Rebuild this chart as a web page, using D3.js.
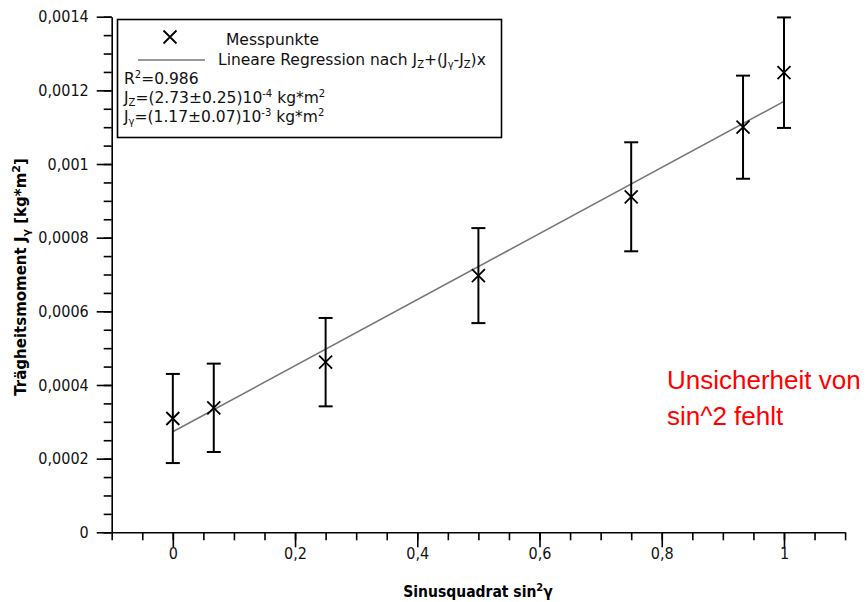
<!DOCTYPE html>
<html>
<head>
<meta charset="utf-8">
<script src="https://cdn.jsdelivr.net/npm/d3@7"></script>
<style>
  body { margin: 0; background: #fff; }
  svg { display: block; }
</style>
</head>
<body>
<div id="chart"></div>
<script>
// Messwerte: sin^2(gamma) und Traegheitsmoment mit Fehler
const sinSq = [0, 0.067, 0.25, 0.5, 0.75, 0.933, 1];
const inertia = [0.000309, 0.000338, 0.000462, 0.000697, 0.000911, 0.0011, 0.001248];
const inertiaErr = [0.000121, 0.00012, 0.00012, 0.000129, 0.000148, 0.00014, 0.00015];

// Fit-Parameter (aus der Legende)
const fitJz = 0.000273;
const fitJy = 0.00117;
const fitRange = [0, 1];

const xMajor = [0, 0.2, 0.4, 0.6, 0.8, 1];
const xMinor = d3.range(-2, 23).map(i => i * 0.05);
const yMajor = [0, 0.0002, 0.0004, 0.0006, 0.0008, 0.001, 0.0012, 0.0014];
const yMinor = d3.range(0, 29).map(i => i * 0.00005);

const W = 867, H = 602;
const font = "'DejaVu Sans Condensed', 'DejaVu Sans', sans-serif";
const fontWide = "'DejaVu Sans', sans-serif";

const svg = d3.select("#chart").append("svg")
    .attr("width", W)
    .attr("height", H);

const x = d3.scaleLinear().domain([-0.1, 1.1]).range([111.7, 845.1]);
const y = d3.scaleLinear().domain([0, 0.0014]).range([532.3, 16.7]);

const fmt = function(d) {
    if (d === 0) return "0";
    return String(+d.toFixed(4)).replace(".", ",");
};

// minor ticks
svg.append("g")
    .attr("transform", "translate(0," + y(0) + ")")
    .call(d3.axisBottom(x).tickValues(xMinor).tickSize(8).tickFormat(""))
    .call(g => g.select(".domain").remove());
svg.append("g")
    .attr("transform", "translate(" + x(-0.1) + ",0)")
    .call(d3.axisLeft(y).tickValues(yMinor).tickSize(8).tickFormat(""))
    .call(g => g.select(".domain").remove());

// major ticks + labels
const xAxis = svg.append("g")
    .attr("transform", "translate(0," + y(0) + ")")
    .call(d3.axisBottom(x).tickValues(xMajor).tickSize(15).tickSizeOuter(0).tickPadding(0).tickFormat(fmt));
const yAxis = svg.append("g")
    .attr("transform", "translate(" + x(-0.1) + ",0)")
    .call(d3.axisLeft(y).tickValues(yMajor).tickSize(15).tickSizeOuter(0).tickPadding(8).tickFormat(fmt));

[xAxis, yAxis].forEach(function(g) {
    g.select(".domain").attr("stroke", "#000").attr("stroke-width", 1.6);
    g.selectAll("text").attr("font-family", font).attr("font-size", 16).attr("fill", "#111");
});
svg.selectAll("g line").attr("stroke", "#000").attr("stroke-width", 1.6);

// axis titles
svg.append("text")
    .attr("x", 478)
    .attr("y", 597)
    .attr("text-anchor", "middle")
    .attr("font-family", font)
    .attr("font-size", 15.5)
    .attr("font-weight", "bold")
    .html("Sinusquadrat sin<tspan dy='-6' font-size='11'>2</tspan><tspan dy='6'>γ</tspan>");

svg.append("text")
    .attr("transform", "translate(26,277) rotate(-90)")
    .attr("text-anchor", "middle")
    .attr("font-family", fontWide)
    .attr("font-size", 15)
    .attr("font-weight", "bold")
    .html("Trägheitsmoment J<tspan dy='4' font-size='11'>γ</tspan><tspan dy='-4'> [kg*m</tspan><tspan dy='-6' font-size='11'>2</tspan><tspan dy='6'>]</tspan>");

// regression line
svg.append("line")
    .attr("x1", x(fitRange[0]))
    .attr("y1", y(fitJz + (fitJy - fitJz) * fitRange[0]))
    .attr("x2", x(fitRange[1]))
    .attr("y2", y(fitJz + (fitJy - fitJz) * fitRange[1]))
    .attr("stroke", "#777")
    .attr("stroke-width", 1.6);

// error bars
const pts = sinSq.map((s, i) => ({ s: s, j: inertia[i], e: inertiaErr[i] }));
const cap = 7;
const bars = svg.append("g").attr("stroke", "#000").attr("stroke-width", 2);
pts.forEach(function(d) {
    const cx = x(d.s);
    bars.append("line").attr("x1", cx).attr("x2", cx).attr("y1", y(d.j - d.e)).attr("y2", y(d.j + d.e));
    bars.append("line").attr("x1", cx - cap).attr("x2", cx + cap).attr("y1", y(d.j - d.e)).attr("y2", y(d.j - d.e));
    bars.append("line").attr("x1", cx - cap).attr("x2", cx + cap).attr("y1", y(d.j + d.e)).attr("y2", y(d.j + d.e));
});

// X markers
const mk = 6.5;
function cross(g, cx, cy) {
    g.append("path")
        .attr("d", "M" + (cx - mk) + "," + (cy - mk) + "L" + (cx + mk) + "," + (cy + mk) +
                   "M" + (cx - mk) + "," + (cy + mk) + "L" + (cx + mk) + "," + (cy - mk))
        .attr("stroke", "#000")
        .attr("stroke-width", 1.8)
        .attr("fill", "none");
}
const marks = svg.append("g");
pts.forEach(d => cross(marks, x(d.s), y(d.j)));

// legend
const lg = svg.append("g");
lg.append("rect")
    .attr("x", 117.5).attr("y", 19.5)
    .attr("width", 384).attr("height", 118)
    .attr("fill", "#fff")
    .attr("stroke", "#000")
    .attr("stroke-width", 1.6);
cross(lg, 170, 37);
lg.append("line")
    .attr("x1", 138).attr("x2", 205).attr("y1", 60).attr("y2", 60)
    .attr("stroke", "#777").attr("stroke-width", 1.6);

const lf = 15.5;
function ltext(xp, yp, html) {
    lg.append("text").attr("x", xp).attr("y", yp)
        .attr("font-family", fontWide).attr("font-size", lf).attr("fill", "#111")
        .html(html);
}
ltext(226, 45, "Messpunkte");
ltext(218, 65, "Lineare Regression nach J<tspan dy='3' font-size='10'>Z</tspan><tspan dy='-3'>+(J</tspan><tspan dy='3' font-size='10'>γ</tspan><tspan dy='-3'>-J</tspan><tspan dy='3' font-size='10'>Z</tspan><tspan dy='-3'>)x</tspan>");
ltext(124, 84, "R<tspan dy='-6' font-size='10'>2</tspan><tspan dy='6'>=0.986</tspan>");
ltext(124, 103, "J<tspan dy='3' font-size='10'>Z</tspan><tspan dy='-3'>=(2.73±0.25)10</tspan><tspan dy='-6' font-size='10'>-4</tspan><tspan dy='6'> kg*m</tspan><tspan dy='-6' font-size='10'>2</tspan>");
ltext(124, 122, "J<tspan dy='3' font-size='10'>γ</tspan><tspan dy='-3'>=(1.17±0.07)10</tspan><tspan dy='-6' font-size='10'>-3</tspan><tspan dy='6'> kg*m</tspan><tspan dy='-6' font-size='10'>2</tspan>");

// red annotation
const note = svg.append("g")
    .attr("font-family", "'Liberation Sans', Arial, sans-serif")
    .attr("font-size", 26)
    .attr("fill", "#ff0000");
note.append("text").attr("x", 667).attr("y", 389).text("Unsicherheit von");
note.append("text").attr("x", 667).attr("y", 425).text("sin^2 fehlt");
</script>
</body>
</html>
